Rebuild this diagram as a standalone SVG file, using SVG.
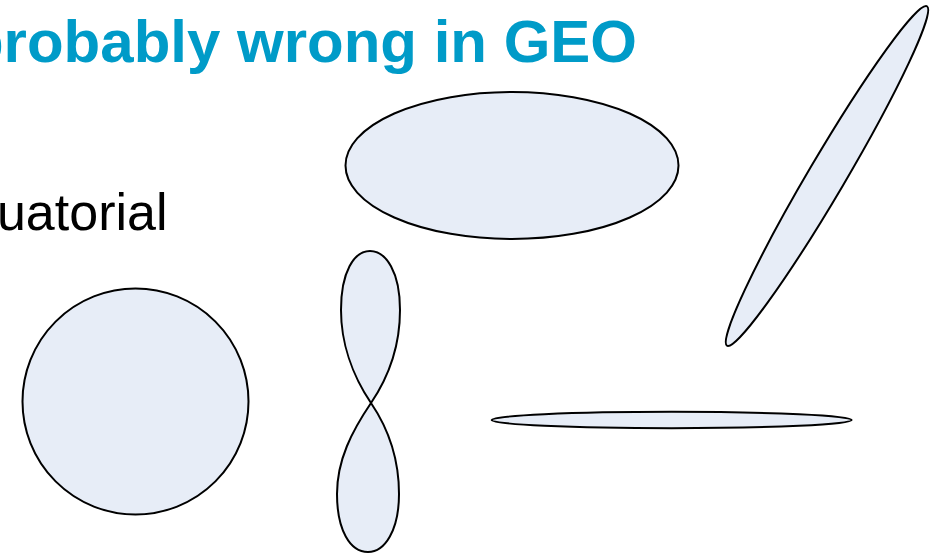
<svg xmlns="http://www.w3.org/2000/svg" width="932" height="554" viewBox="0 0 932 554">
<style>
.shape{fill:#e7edf7;stroke:#000;stroke-width:2}
.title{font-family:"Liberation Sans",Arial,sans-serif;font-weight:bold;font-size:60px;fill:#009bc8}
.body{font-family:"Liberation Sans",Arial,sans-serif;font-size:52px;fill:#000}
</style>
<rect width="932" height="554" fill="#fff"/>
<text class="title" x="637" y="62" text-anchor="end">probably wrong in GEO</text>
<text class="body" x="167.5" y="230" text-anchor="end">uatorial</text>
<g id="top-ellipse"><ellipse class="shape" cx="512" cy="165.5" rx="166.5" ry="73.5"/></g>
<g id="circle"><circle class="shape" cx="135.5" cy="401.5" r="113" stroke-width="1.6"/></g>
<g id="figure-eight"><path class="shape" d="M371,403 C390,375 400,342 400,310 C400,272 386,251 370,251 C354,251 341,272 341,310 C341,342 352,375 371,403 C390,431 399,460 399,494 C399,530 385,552 368,552 C350,552 337,530 337,494 C337,460 352,431 371,403 Z"/></g>
<g id="tilted-ellipse"><ellipse class="shape" cx="0" cy="0" rx="197" ry="18.5" transform="translate(827,176) rotate(-59.5)"/></g>
<g id="flat-ellipse"><ellipse class="shape" cx="671.7" cy="420" rx="180" ry="8.2" stroke-width="2.4"/></g>
<g id="connectors"/>
</svg>
